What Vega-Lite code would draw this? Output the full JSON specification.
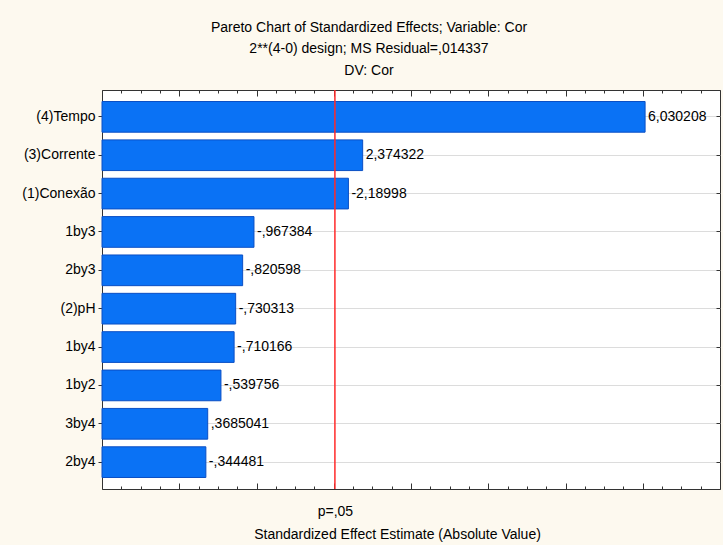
{
  "$schema": "https://vega.github.io/schema/vega-lite/v6.json",
  "width": 618,
  "height": 399,
  "autosize": "none",
  "padding": {"left": 102, "top": 90, "right": 3, "bottom": 56},
  "background": "#FDF9EF",
  "view": {"fill": "white", "stroke": "#333333", "strokeWidth": 1},
  "config": {
    "font": "Liberation Sans",
    "axis": {"labelFont": "Liberation Sans", "titleFont": "Liberation Sans", "labelColor": "black", "titleColor": "black", "domain": false}
  },
  "title": {
    "text": "Pareto Chart of Standardized Effects; Variable: Cor",
    "subtitle": ["2**(4-0) design; MS Residual=,014337", "DV: Cor"],
    "anchor": "middle",
    "frame": "group",
    "dx": -42,
    "offset": 11,
    "font": "Liberation Sans",
    "fontSize": 14,
    "fontWeight": "normal",
    "color": "black",
    "subtitleFont": "Liberation Sans",
    "subtitleFontSize": 14,
    "subtitleColor": "black",
    "subtitlePadding": 7,
    "subtitleLineHeight": 22
  },
  "data": {
    "values": [
      {"term": "(4)Tempo", "effect": 6.030208, "label": "6,030208"},
      {"term": "(3)Corrente", "effect": 2.374322, "label": "2,374322"},
      {"term": "(1)Conexão", "effect": 2.18998, "label": "-2,18998"},
      {"term": "1by3", "effect": 0.967384, "label": "-,967384"},
      {"term": "2by3", "effect": 0.820598, "label": "-,820598"},
      {"term": "(2)pH", "effect": 0.730313, "label": "-,730313"},
      {"term": "1by4", "effect": 0.710166, "label": "-,710166"},
      {"term": "1by2", "effect": 0.539756, "label": "-,539756"},
      {"term": "3by4", "effect": 0.3685041, "label": ",3685041"},
      {"term": "2by4", "effect": 0.344481, "label": "-,344481"}
    ]
  },
  "resolve": {"axis": {"x": "independent", "y": "independent"}},
  "layer": [
    {
      "mark": {"type": "bar", "fill": "#0A72F5", "stroke": "#0A4FC4", "strokeWidth": 1},
      "encoding": {
        "y": {
          "field": "term", "type": "nominal", "sort": null,
          "scale": {"paddingInner": 0.2, "paddingOuter": 0.3},
          "axis": {"title": null, "labelFontSize": 14, "tickSize": 4, "tickColor": "#333333", "labelPadding": 3, "grid": true, "gridColor": "#DCDCDC", "gridWidth": 1}
        },
        "x": {
          "field": "effect", "type": "quantitative",
          "scale": {"domain": [-1, 7], "nice": false, "zero": false},
          "axis": {
            "orient": "bottom",
            "grid": false,
            "values": [-1, -0.75, -0.5, -0.25, 0, 0.25, 0.5, 0.75, 1, 1.25, 1.5, 1.75, 2, 2.015, 2.25, 2.5, 2.75, 3, 3.25, 3.5, 3.75, 4, 4.25, 4.5, 4.75, 5, 5.25, 5.5, 5.75, 6, 6.25, 6.5, 6.75, 7],
            "labelExpr": "datum.value === 2.015 ? 'p=,05' : ''",
            "labelFontSize": 14,
            "labelPadding": 18,
            "labelFlush": false,
            "labelOverlap": false,
            "tickColor": "#333333",
            "tickSize": {"condition": {"test": "datum.value % 1 === 0", "value": -6}, "value": -3},
            "tickOpacity": {"condition": {"test": "datum.value === 2.015", "value": 0}, "value": 1},
            "title": "Standardized Effect Estimate (Absolute Value)",
            "titleFontSize": 14,
            "titleFontWeight": "normal",
            "titleAlign": "center",
            "titleBaseline": "middle",
            "titleX": 295,
            "titleY": 45
          }
        },
        "x2": {"datum": -1}
      }
    },
    {
      "data": {"values": [{"t": 2.015}]},
      "mark": {"type": "rule", "color": "#FF2A2A", "strokeWidth": 1.5},
      "encoding": {
        "x": {
          "field": "t", "type": "quantitative",
          "scale": {"domain": [-1, 7], "nice": false, "zero": false},
          "axis": {
            "orient": "top",
            "grid": false,
            "title": null,
            "labels": false,
            "values": [-1, -0.75, -0.5, -0.25, 0, 0.25, 0.5, 0.75, 1, 1.25, 1.5, 1.75, 2, 2.25, 2.5, 2.75, 3, 3.25, 3.5, 3.75, 4, 4.25, 4.5, 4.75, 5, 5.25, 5.5, 5.75, 6, 6.25, 6.5, 6.75, 7],
            "tickColor": "#333333",
            "tickSize": {"condition": {"test": "datum.value % 1 === 0", "value": -6}, "value": -3}
          }
        }
      }
    },
    {
      "mark": {"type": "text", "align": "left", "baseline": "middle", "dx": 3, "fontSize": 14, "color": "black", "font": "Liberation Sans"},
      "encoding": {
        "y": {
          "field": "term", "type": "nominal", "sort": null,
          "scale": {"paddingInner": 0.2, "paddingOuter": 0.3},
          "axis": {"orient": "right", "title": null, "labels": false, "tickSize": -4, "tickColor": "#333333", "grid": false}
        },
        "x": {
          "field": "effect", "type": "quantitative",
          "scale": {"domain": [-1, 7], "nice": false, "zero": false},
          "axis": null
        },
        "text": {"field": "label"}
      }
    }
  ]
}
